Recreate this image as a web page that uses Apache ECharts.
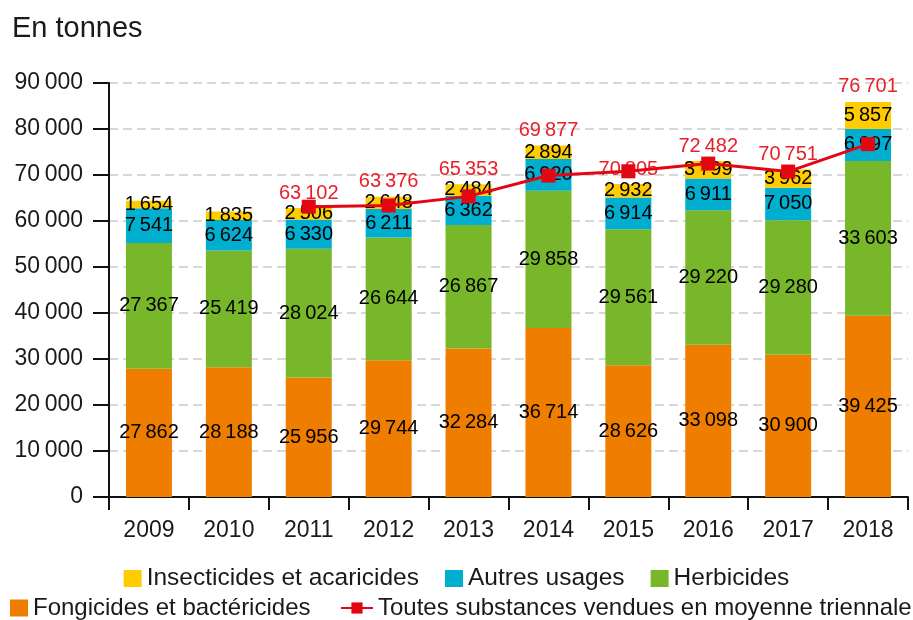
<!DOCTYPE html>
<html>
<head>
<meta charset="utf-8">
<script src="https://cdn.jsdelivr.net/npm/echarts@6/dist/echarts.min.js"></script>
<style>
html,body{margin:0;padding:0;background:#fff;}
#chart{width:913px;height:620px;}
</style>
</head>
<body>
<div id="chart"></div>
<script>
const years = ['2009','2010','2011','2012','2013','2014','2015','2016','2017','2018'];
const fongicides = [27862, 28188, 25956, 29744, 32284, 36714, 28626, 33098, 30900, 39425];
const herbicides = [27367, 25419, 28024, 26644, 26867, 29858, 29561, 29220, 29280, 33603];
const autres = [7541, 6624, 6330, 6211, 6362, 6920, 6914, 6911, 7050, 6997];
const insecticides = [1654, 1835, 2506, 2648, 2484, 2894, 2932, 3799, 3962, 5857];
const moyenne = [null, null, 63102, 63376, 65353, 69877, 70805, 72482, 70751, 76701];
const yMin = 0, yMax = 90000, yStep = 10000;

const FONT = 'Liberation Sans, Arial, sans-serif';
const fmt = v => String(v).replace(/\B(?=(\d{3})+(?!\d))/g, '\u2009');

const segLabel = {
  show: true, position: 'inside', color: '#000', fontFamily: FONT, fontSize: 20,
  formatter: p => fmt(p.value)
};

const chart = echarts.init(document.getElementById('chart'), null, {renderer: 'canvas'});
chart.setOption({
  animation: false,
  backgroundColor: '#fff',
  textStyle: {fontFamily: FONT},
  title: {
    text: 'En tonnes', left: 12, top: 14, padding: 0,
    textStyle: {fontFamily: FONT, fontSize: 29, fontWeight: 'normal', color: '#1a1a1a'}
  },
  grid: {left: 109, right: 5, top: 83, bottom: 123, containLabel: false},
  legend: [
    {
      data: ['Insecticides et acaricides', 'Autres usages', 'Herbicides'],
      left: 'center', top: 561, itemWidth: 18, itemHeight: 17, itemGap: 26,
      icon: 'rect', textStyle: {fontFamily: FONT, fontSize: 24.5, color: '#1a1a1a'}
    },
    {
      data: ['Fongicides et bactéricides'],
      left: 10, top: 596, itemWidth: 18, itemHeight: 17, padding: 0,
      icon: 'rect', textStyle: {fontFamily: FONT, fontSize: 24, color: '#1a1a1a'}
    },
    {
      data: ['Toutes substances vendues en moyenne triennale'],
      left: 340, top: 596, itemWidth: 32, itemHeight: 14, padding: 0,
      textStyle: {fontFamily: FONT, fontSize: 24, color: '#1a1a1a'}
    }
  ],
  xAxis: {
    type: 'category', data: years,
    axisLine: {lineStyle: {color: '#111', width: 2}},
    axisTick: {show: true, length: 13, lineStyle: {color: '#111', width: 2}},
    axisLabel: {fontFamily: FONT, fontSize: 23, color: '#1a1a1a', margin: 22}
  },
  yAxis: {
    type: 'value', min: yMin, max: yMax, interval: yStep,
    axisLine: {show: true, lineStyle: {color: '#111', width: 2}},
    axisTick: {show: true, length: 16, lineStyle: {color: '#111', width: 2}},
    axisLabel: {fontFamily: FONT, fontSize: 23, color: '#1a1a1a', margin: 26, formatter: v => fmt(v)},
    splitLine: {show: true, lineStyle: {color: '#cccccc', width: 1.5, type: [9, 5]}}
  },
  series: [
    {name: 'Fongicides et bactéricides', type: 'bar', stack: 'total', barWidth: 46,
     itemStyle: {color: '#ef7d00'}, label: segLabel, data: fongicides},
    {name: 'Herbicides', type: 'bar', stack: 'total',
     itemStyle: {color: '#78b72a'}, label: segLabel, data: herbicides},
    {name: 'Autres usages', type: 'bar', stack: 'total',
     itemStyle: {color: '#00aecf'}, label: segLabel, data: autres},
    {name: 'Insecticides et acaricides', type: 'bar', stack: 'total',
     itemStyle: {color: '#ffcc00'}, label: segLabel, data: insecticides},
    {name: 'avgLabels', type: 'bar', stack: 'total', silent: true,
     itemStyle: {color: 'rgba(0,0,0,0)'},
     label: {show: true, position: 'top', distance: 5, color: '#e8202a', fontFamily: FONT, fontSize: 20,
             formatter: p => moyenne[p.dataIndex] == null ? '' : fmt(moyenne[p.dataIndex])},
     data: moyenne.map(() => 0)},
    {name: 'Toutes substances vendues en moyenne triennale', type: 'line', z: 5,
     symbol: 'rect', symbolSize: 14, itemStyle: {color: '#e30613'},
     lineStyle: {color: '#e30613', width: 3}, data: moyenne}
  ]
});
</script>
</body>
</html>
